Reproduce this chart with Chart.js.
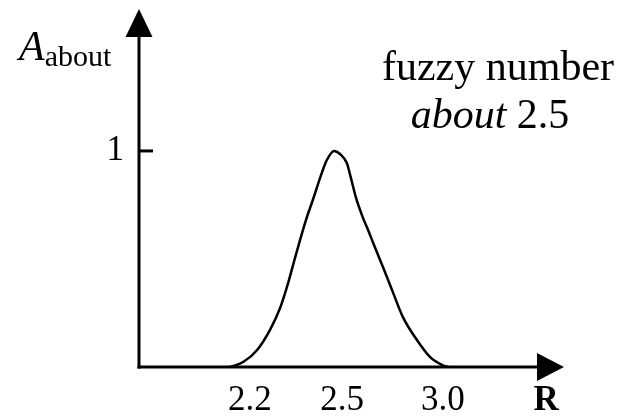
<!DOCTYPE html>
<html>
<head>
<meta charset="utf-8">
<script src="https://cdn.jsdelivr.net/npm/chart.js@4.4.1/dist/chart.umd.min.js"></script>
<style>
html,body{margin:0;padding:0;background:#fff;}
#wrap{width:627px;height:417px;position:relative;}
</style>
</head>
<body>
<div id="wrap"><canvas id="c" width="627" height="417"></canvas></div>
<script>
// Schematic positions along the R axis (axis runs 0..10) and membership values
const curveX = [2.14, 2.45, 2.78, 3.08, 3.32, 3.51, 3.65, 3.79, 3.93, 4.09, 4.31, 4.42, 4.59, 4.73, 4.89, 4.98, 5.10, 5.27, 5.39, 5.51, 5.74, 5.98, 6.21, 6.54, 6.85, 7.15, 7.27];
const curveY = [0, 0.023, 0.079, 0.171, 0.273, 0.389, 0.490, 0.588, 0.681, 0.773, 0.903, 0.958, 1.0, 0.986, 0.944, 0.88, 0.787, 0.690, 0.634, 0.574, 0.463, 0.343, 0.231, 0.125, 0.046, 0.008, 0];
const xTickPos = [2.61, 4.78, 7.15, 9.58];
const xTickLabels = ['2.2', '2.5', '3.0', 'R'];
const yTickPos = [1];
const yTickLabels = ['1'];
const titleLines = ['fuzzy number', 'about 2.5'];

const points = curveX.map((x, i) => ({x: x, y: curveY[i]}));
const SERIF = '"Liberation Serif", "Times New Roman", serif';

const axesPlugin = {
  id: 'axesArrows',
  afterDraw(chart) {
    const ctx = chart.ctx;
    const a = chart.chartArea;
    const ys = chart.scales.y;
    ctx.save();
    ctx.strokeStyle = '#000';
    ctx.fillStyle = '#000';
    ctx.lineWidth = 3;
    ctx.lineCap = 'butt';
    // y axis
    ctx.beginPath();
    ctx.moveTo(a.left, a.bottom + 1.5);
    ctx.lineTo(a.left, a.top + 28);
    ctx.stroke();
    ctx.beginPath();
    ctx.moveTo(a.left, a.top);
    ctx.lineTo(a.left - 13.5, a.top + 28);
    ctx.lineTo(a.left + 13.5, a.top + 28);
    ctx.closePath();
    ctx.fill();
    // x axis
    ctx.beginPath();
    ctx.moveTo(a.left - 1.5, a.bottom);
    ctx.lineTo(a.right - 27, a.bottom);
    ctx.stroke();
    ctx.beginPath();
    ctx.moveTo(a.right, a.bottom);
    ctx.lineTo(a.right - 27, a.bottom - 14);
    ctx.lineTo(a.right - 27, a.bottom + 14);
    ctx.closePath();
    ctx.fill();
    // y tick marks (inside)
    yTickPos.forEach(v => {
      const py = ys.getPixelForValue(v);
      ctx.beginPath();
      ctx.moveTo(a.left, py);
      ctx.lineTo(a.left + 14, py);
      ctx.stroke();
    });
    // y axis title: A with subscript "about"
    ctx.textBaseline = 'alphabetic';
    ctx.textAlign = 'left';
    ctx.font = 'italic 42px ' + SERIF;
    ctx.fillText('A', 19, 60);
    const wA = ctx.measureText('A').width;
    ctx.font = '30px ' + SERIF;
    ctx.fillText('about', 19 + wA, 66);
    // annotation text
    ctx.textAlign = 'left';
    ctx.font = '42px ' + SERIF;
    const w1 = ctx.measureText(titleLines[0]).width;
    ctx.fillText(titleLines[0], 498 - w1 / 2, 80);
    const parts = titleLines[1].split(' ');
    ctx.font = 'italic 42px ' + SERIF;
    const wi = ctx.measureText(parts[0]).width;
    ctx.font = '42px ' + SERIF;
    const wr = ctx.measureText(' ' + parts[1]).width;
    const start = 490 - (wi + wr) / 2;
    ctx.font = 'italic 42px ' + SERIF;
    ctx.fillText(parts[0], start, 128);
    ctx.font = '42px ' + SERIF;
    ctx.fillText(' ' + parts[1], start + wi, 128);
    ctx.restore();
  }
};

new Chart(document.getElementById('c'), {
  type: 'line',
  data: {
    datasets: [{
      data: points,
      borderColor: '#000',
      borderWidth: 2.5,
      pointRadius: 0,
      fill: false,
      cubicInterpolationMode: 'monotone'
    }]
  },
  options: {
    responsive: false,
    animation: false,
    devicePixelRatio: 1,
    layout: {padding: {left: 0, right: 63, top: 9, bottom: 0}},
    plugins: {legend: {display: false}, tooltip: {enabled: false}, title: {display: false}},
    scales: {
      x: {
        type: 'linear',
        min: 0,
        max: 10,
        border: {display: false},
        grid: {display: false, drawTicks: false, tickLength: 0},
        afterBuildTicks: s => { s.ticks = xTickPos.map(v => ({value: v})); },
        afterFit: s => { s.height = 50; s.paddingLeft = 0; s.paddingRight = 0; },
        ticks: {
          autoSkip: false,
          maxRotation: 0,
          padding: 13,
          color: '#000',
          font: c => (c.index === 3 ? {family: SERIF, size: 35, weight: 'bold'} : {family: SERIF, size: 35}),
          callback: (v, i) => xTickLabels[i]
        }
      },
      y: {
        type: 'linear',
        min: 0,
        max: 1.657,
        border: {display: false},
        grid: {display: false, drawTicks: false, tickLength: 0},
        afterBuildTicks: s => { s.ticks = yTickPos.map(v => ({value: v})); },
        afterFit: s => { s.width = 139; s.paddingTop = 0; s.paddingBottom = 0; },
        ticks: {
          padding: 15,
          color: '#000',
          font: {family: SERIF, size: 35},
          callback: (v, i) => yTickLabels[i]
        }
      }
    }
  },
  plugins: [axesPlugin]
});
</script>
</body>
</html>
